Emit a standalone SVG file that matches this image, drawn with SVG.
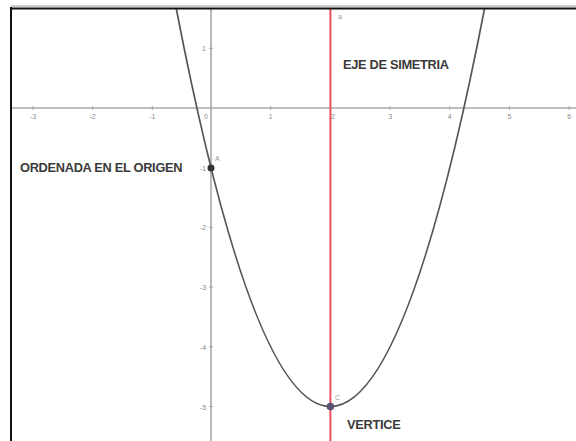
<svg xmlns="http://www.w3.org/2000/svg" width="576" height="441" viewBox="0 0 576 441">
<style>
.ax{stroke:#a8a8a8;stroke-width:1.6;fill:none}
.tk{stroke:#a8a8a8;stroke-width:1}
.tl{font-family:"Liberation Sans",Arial,sans-serif;font-size:7px;fill:#8a8a8a;text-anchor:middle}
.lb{font-family:"Liberation Sans",Arial,sans-serif;font-size:12.8px;font-weight:bold;fill:#3a3a3a;letter-spacing:-0.3px}
.pl{font-family:"Liberation Sans",Arial,sans-serif;font-size:7px;fill:#999}
</style>
<defs><clipPath id="c"><rect x="12" y="9" width="564" height="432"/></clipPath></defs>
<rect width="576" height="441" fill="#fff"/>
<g id="axes">
<line class="ax" x1="12" y1="108" x2="576" y2="108"/>
<line class="ax" x1="211" y1="9" x2="211" y2="441"/>
<g class="tk">
<line x1="33" y1="106" x2="33" y2="110"/><line x1="92.6" y1="106" x2="92.6" y2="110"/><line x1="152.3" y1="106" x2="152.3" y2="110"/>
<line x1="270.7" y1="106" x2="270.7" y2="110"/><line x1="390.1" y1="106" x2="390.1" y2="110"/><line x1="449.8" y1="106" x2="449.8" y2="110"/><line x1="509.5" y1="106" x2="509.5" y2="110"/><line x1="569.2" y1="106" x2="569.2" y2="110"/>
<line x1="209" y1="48.3" x2="213" y2="48.3"/><line x1="209" y1="167.7" x2="213" y2="167.7"/><line x1="209" y1="227.4" x2="213" y2="227.4"/><line x1="209" y1="287.1" x2="213" y2="287.1"/><line x1="209" y1="346.8" x2="213" y2="346.8"/><line x1="209" y1="406.5" x2="213" y2="406.5"/>
</g>
<g class="tl">
<text x="33" y="119">-3</text><text x="92.6" y="119">-2</text><text x="152.3" y="119">-1</text><text x="206" y="119">0</text>
<text x="270.7" y="119">1</text><text x="333" y="119">2</text><text x="390.1" y="119">3</text><text x="449.8" y="119">4</text><text x="509.5" y="119">5</text><text x="569.2" y="119">6</text>
<text x="204" y="51">1</text><text x="203" y="171">-1</text><text x="203" y="230">-2</text><text x="203" y="290">-3</text><text x="203" y="350">-4</text><text x="203" y="410">-5</text>
</g>
</g>
<g id="eje">
<line x1="330.4" y1="9" x2="330.4" y2="441" stroke="#e5505e" stroke-width="2"/>
<text class="pl" x="338" y="19">a</text>
</g>
<g id="parabola" clip-path="url(#c)">
<path d="M169.2,-28.7 Q330.4,841.7 491.6,-28.7" fill="none" stroke="#555" stroke-width="1.7"/>
</g>
<g id="ordenada">
<circle cx="211" cy="168" r="3.5" fill="#333"/>
<text class="pl" x="215" y="161">A</text>
<text class="lb" x="20" y="172">ORDENADA EN EL ORIGEN</text>
</g>
<g id="vertice">
<circle cx="330.4" cy="406.5" r="3.8" fill="#5a5270"/>
<text class="pl" x="335" y="400">C</text>
<text class="lb" x="347" y="428.5">VERTICE</text>
</g>
<g id="simetria">
<text class="lb" x="343" y="68.5">EJE DE SIMETRIA</text>
</g>
<g id="frame">
<line x1="11" y1="6" x2="576" y2="6" stroke="#999" stroke-width="1"/>
<line x1="11" y1="8.5" x2="576" y2="8.5" stroke="#111" stroke-width="2"/>
<line x1="11" y1="7" x2="11" y2="441" stroke="#111" stroke-width="2"/>
</g>
</svg>
